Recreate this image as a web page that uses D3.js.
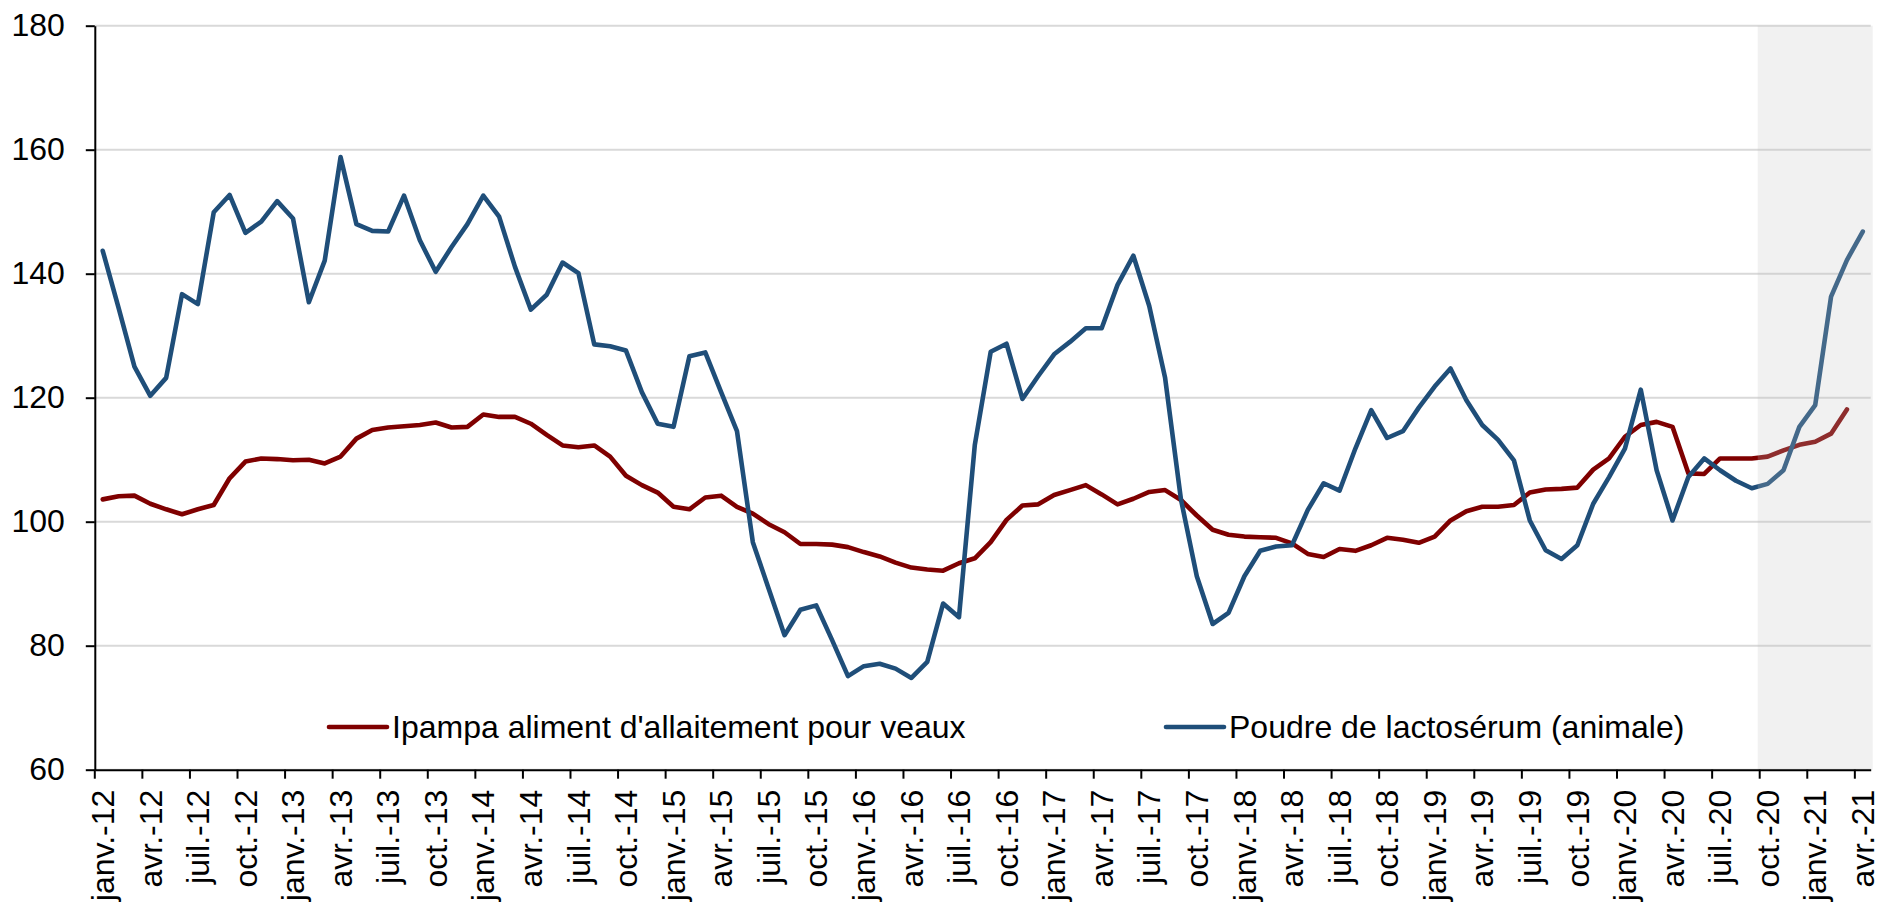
<!DOCTYPE html>
<html>
<head>
<meta charset="utf-8">
<script src="https://cdn.jsdelivr.net/npm/d3@7"></script>
<style>
  body { margin: 0; background: #fff; }
  svg { display: block; }
  text { font-family: "Liberation Sans", Arial, Helvetica, sans-serif; fill: #000; }
</style>
</head>
<body>
<div id="chart"></div>
<script>
// Catégories mensuelles janv.-12 -> avr.-21
const mois = ["janv.", "févr.", "mars", "avr.", "mai", "juin", "juil.", "août", "sept.", "oct.", "nov.", "déc."];
const annees = ["12", "13", "14", "15", "16", "17", "18", "19", "20", "21"];
let categories = [];
annees.forEach(a => mois.forEach(m => categories.push(m + "-" + a)));
categories = categories.slice(0, categories.indexOf("avr.-21") + 1);

// Ipampa aliment d'allaitement pour veaux (s'arrête en mars-21)
const ipampa = [
  103.6, 104.1, 104.2, 102.9, 102.0, 101.2, 102.0, 102.7, 107.0, 109.7, 110.2, 110.1,
  109.9, 110.0, 109.4, 110.5, 113.4, 114.8, 115.2, 115.4, 115.6, 116.0, 115.2, 115.3,
  117.3, 116.9, 116.9, 115.8, 114.0, 112.3, 112.0, 112.3, 110.5, 107.4, 105.9, 104.7,
  102.4, 102.0, 103.9, 104.2, 102.4, 101.3, 99.6, 98.3, 96.4, 96.4, 96.3, 95.9,
  95.1, 94.4, 93.4, 92.6, 92.3, 92.1, 93.3, 94.1, 96.7, 100.3, 102.6, 102.8,
  104.3, 105.1, 105.9, 104.4, 102.8, 103.7, 104.8, 105.1, 103.5, 101.0, 98.7, 97.9,
  97.6, 97.5, 97.4, 96.5, 94.8, 94.3, 95.6, 95.3, 96.2, 97.4, 97.1, 96.6,
  97.6, 100.2, 101.7, 102.4, 102.4, 102.7, 104.7, 105.2, 105.3, 105.5, 108.4, 110.2,
  113.7, 115.6, 116.1, 115.3, 107.8, 107.7, 110.2, 110.2, 110.2, 110.5, 111.5, 112.4,
  112.9, 114.2, 118.1, null
];

// Poudre de lactosérum (animale)
const lactoserum = [
  143.7, 134.5, 125.0, 120.3, 123.2, 136.7, 135.1, 149.9, 152.7, 146.6, 148.4, 151.7,
  148.9, 135.4, 142.1, 158.8, 148.0, 146.9, 146.8, 152.6, 145.4, 140.3, 144.3, 148.0,
  152.6, 149.2, 141.1, 134.2, 136.6, 141.8, 140.1, 128.6, 128.3, 127.6, 120.9, 115.8,
  115.3, 126.7, 127.3, 120.9, 114.6, 96.7, 89.2, 81.7, 85.8, 86.5, 80.9, 75.1,
  76.7, 77.1, 76.3, 74.8, 77.4, 86.8, 84.6, 112.4, 127.4, 128.7, 119.8, 123.5,
  127.0, 129.0, 131.2, 131.2, 138.2, 142.9, 134.8, 123.2, 103.6, 91.2, 83.5, 85.3,
  91.2, 95.3, 96.0, 96.2, 101.9, 106.2, 105.0, 111.8, 118.0, 113.5, 114.6, 118.4,
  121.8, 124.7, 119.6, 115.6, 113.2, 109.9, 100.2, 95.4, 94.0, 96.2, 102.9, 107.2,
  111.8, 121.3, 108.3, 100.2, 107.2, 110.2, 108.3, 106.6, 105.4, 106.1, 108.3, 115.3,
  118.8, 136.3, 142.2, 146.8
];

const seriesNames = ["Ipampa aliment d'allaitement pour veaux", "Poudre de lactosérum (animale)"];
const seriesColors = ["#7f0000", "#1f4e79"];
const yTicks = [60, 80, 100, 120, 140, 160, 180];
const debutPrevision = "oct.-20";

const width = 1878, height = 904;
const margin = { top: 25.7, right: 7.3, bottom: 134.3, left: 94.8 };
const fontSize = 32;

const svg = d3.select("#chart")
    .append("svg")
    .attr("width", width)
    .attr("height", height);

const x = d3.scaleBand()
    .domain(categories)
    .range([margin.left, width - margin.right]);

const y = d3.scaleLinear()
    .domain([60, 180])
    .range([height - margin.bottom, margin.top]);

const cx = c => x(c) + x.bandwidth() / 2;

// Grid
svg.append("g")
    .selectAll("line")
    .data(yTicks)
    .enter().append("line")
    .attr("x1", margin.left)
    .attr("x2", width - margin.right)
    .attr("y1", d => y(d))
    .attr("y2", d => y(d))
    .attr("stroke", "#d9d9d9")
    .attr("stroke-width", 2);

// Series
const series = [ipampa, lactoserum];
const line = d3.line()
    .defined(d => d.v != null)
    .x(d => cx(d.c))
    .y(d => y(d.v));

series.forEach((values, k) => {
    svg.append("path")
        .datum(categories.map((c, i) => ({ c, v: values[i] })))
        .attr("fill", "none")
        .attr("stroke", seriesColors[k])
        .attr("stroke-width", 4.6)
        .attr("stroke-linejoin", "round")
        .attr("stroke-linecap", "round")
        .attr("d", line);
});

// Shaded forecast area (over the lines)
svg.append("rect")
    .attr("x", x(debutPrevision) - 2)
    .attr("y", margin.top)
    .attr("width", width - margin.right - x(debutPrevision) + 4)
    .attr("height", y(60) - margin.top)
    .attr("fill", "#c3c3c3")
    .attr("fill-opacity", 0.23);

// Y axis
const yAxis = svg.append("g")
    .attr("transform", `translate(${margin.left},0)`)
    .call(d3.axisLeft(y).tickValues(yTicks).tickSize(9).tickSizeOuter(0).tickPadding(21));
yAxis.select(".domain").attr("stroke", "#000").attr("stroke-width", 2);
yAxis.selectAll(".tick line").attr("stroke", "#000").attr("stroke-width", 2);
yAxis.selectAll("text").style("font-size", fontSize + "px").attr("fill", "#000");

// X axis
const quarterCats = categories.filter((c, i) => i % 3 === 0);
const xAxis = svg.append("g")
    .attr("transform", `translate(0,${y(60)})`)
    .call(d3.axisBottom(x).tickValues(quarterCats).tickSize(9).tickSizeOuter(0));
xAxis.select(".domain").attr("stroke", "#000").attr("stroke-width", 2);
xAxis.selectAll(".tick line")
    .attr("x1", -x.bandwidth() / 2)
    .attr("x2", -x.bandwidth() / 2)
    .attr("stroke", "#000")
    .attr("stroke-width", 2);
xAxis.selectAll("text")
    .attr("transform", "rotate(-90)")
    .attr("x", -20)
    .attr("y", 0)
    .attr("dy", "0.35em")
    .style("text-anchor", "end")
    .style("font-size", fontSize + "px")
    .attr("fill", "#000");

// Legend
const legendX = [329, 1166];
const legendY = 727;
const legend = svg.append("g")
    .selectAll("g")
    .data(seriesNames)
    .enter().append("g")
    .attr("transform", (d, i) => `translate(${legendX[i]},${legendY})`);

legend.append("line")
    .attr("x1", 0)
    .attr("x2", 58)
    .attr("stroke", (d, i) => seriesColors[i])
    .attr("stroke-width", 4.6)
    .attr("stroke-linecap", "round");

legend.append("text")
    .attr("x", 63)
    .attr("dy", "0.35em")
    .style("font-size", fontSize + "px")
    .text(d => d);
</script>
</body>
</html>
